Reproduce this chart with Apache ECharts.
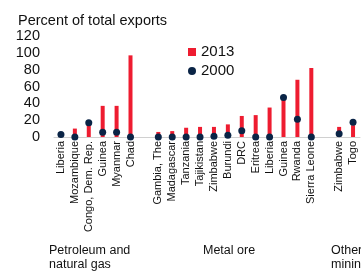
<!DOCTYPE html>
<html>
<head>
<meta charset="utf-8">
<script src="https://cdn.jsdelivr.net/npm/echarts@6/dist/echarts.min.js"></script>
<style>
  html, body { margin: 0; padding: 0; background: #fff; }
  #chart { width: 361px; height: 279px; }
</style>
</head>
<body>
<div id="chart"></div>
<script>
// categories, empty strings leave a gap between groups
const countries = [
  "Liberia", "Mozambique", "Congo, Dem. Rep.", "Guinea", "Myanmar", "Chad",
  "",
  "Gambia, The", "Madagascar", "Tanzania", "Tajikistan", "Zimbabwe", "Burundi",
  "DRC", "Eritrea", "Liberia", "Guinea", "Rwanda", "Sierra Leone",
  "",
  "Zimbabwe", "Togo"
]
const values2013 = [2, 10, 14, 37, 37, 97, null, 6, 7, 11, 12, 12, 15, 25, 26, 35, 46, 68, 82, null, 12, 14]
const values2000 = [3, 0, 17, 5.5, 5.5, 0, null, 0, 0, 0, 0, 1, 2, 7.5, 0, 0, 47, 21, 0, null, 4, 17.5]
const yTicks = [0, 20, 40, 60, 80, 100, 120]
const groupLabels = ["Petroleum and\nnatural gas", "Metal ore", "Other\nmining"]

const font = "Liberation Sans, Arial, sans-serif"
const red = "#ee1c30"
const navy = "#0a2446"

const chart = echarts.init(document.getElementById("chart"))

const option = {
  animation: false,
  grid: { left: 54, right: 1, top: 36, bottom: 142, containLabel: false },
  title: {
    text: "Percent of total exports",
    left: 13, top: 8,
    textStyle: { fontFamily: font, fontSize: 14.5, fontWeight: "normal", color: "#111" },
  },
  legend: {
    orient: "vertical",
    left: 183, top: 39,
    itemWidth: 8, itemHeight: 8, itemGap: 3,
    textStyle: { fontFamily: font, fontSize: 15, color: "#111", lineHeight: 16 },
    data: [
      { name: "2013", icon: "rect" },
      { name: "2000", icon: "circle" },
    ],
  },
  xAxis: {
    type: "category",
    data: countries,
    axisLine: { lineStyle: { color: "#d0d0d0", width: 1 } },
    axisTick: { show: false },
    axisLabel: {
      interval: 0, rotate: 90, margin: 4,
      fontFamily: font, fontSize: 11, color: "#111",
    },
  },
  yAxis: {
    type: "value",
    min: yTicks[0], max: yTicks[yTicks.length - 1], interval: 20,
    splitLine: { show: false },
    axisLine: { show: false },
    axisTick: { show: false },
    axisLabel: { margin: 14, fontFamily: font, fontSize: 14.5, color: "#111" },
  },
  series: [
    {
      name: "2013",
      type: "bar",
      data: values2013,
      barWidth: 4,
      itemStyle: { color: red },
    },
    {
      name: "2000",
      type: "scatter",
      data: values2000,
      symbol: "circle",
      symbolSize: 7,
      itemStyle: { color: navy, opacity: 1 },
    },
  ],
  graphic: [
    { type: "text", left: 49, top: 244, style: { text: groupLabels[0], font: "12.5px " + font, fill: "#111", lineHeight: 14 } },
    { type: "text", left: 203, top: 244, style: { text: groupLabels[1], font: "12.5px " + font, fill: "#111", lineHeight: 14 } },
    { type: "text", left: 331, top: 244, style: { text: groupLabels[2], font: "12.5px " + font, fill: "#111", lineHeight: 14 } },
  ],
}

chart.setOption(option)
</script>
</body>
</html>
